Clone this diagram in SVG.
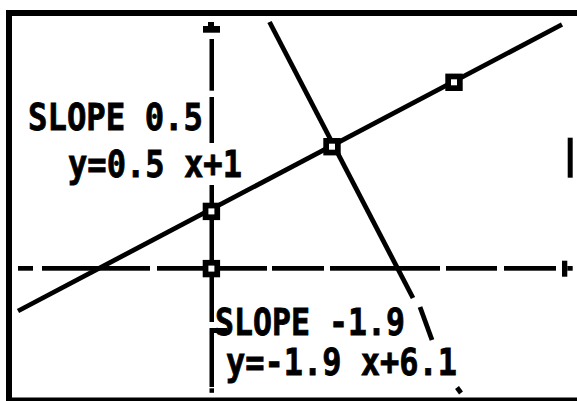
<svg xmlns="http://www.w3.org/2000/svg" width="577" height="401" viewBox="0 0 577 401">
<style>
.k{fill:#000}
.ln{stroke:#000;stroke-width:4.8;fill:none;stroke-linecap:butt}
.t{font-family:"DejaVu Sans Mono","Liberation Mono",monospace;font-weight:bold;font-size:37px;fill:#000;stroke:#000;stroke-width:0.8}
</style>
<defs>
<g id="mk"><rect x="-8.7" y="-8.7" width="17.4" height="17.4" fill="#000"/><rect x="-3" y="-3" width="6" height="6" fill="#fff"/></g>
</defs>
<rect width="577" height="401" fill="#fff"/>
<g id="frame" class="k">
<rect x="6" y="10" width="571" height="6"/>
<rect x="6" y="10" width="6" height="391"/>
<rect x="6" y="397.5" width="571" height="3.5"/>
</g>
<g id="x-axis" class="k">
<rect x="18" y="266" width="15" height="4.7"/>
<rect x="42" y="266" width="108" height="4.7"/>
<rect x="157" y="266" width="46" height="4.7"/>
<rect x="220" y="266" width="47" height="4.7"/>
<rect x="272" y="266" width="52" height="4.7"/>
<rect x="330" y="266" width="110" height="4.7"/>
<rect x="446" y="266" width="51" height="4.7"/>
<rect x="504" y="266" width="52" height="4.7"/>
<rect x="562" y="260.7" width="5.3" height="16"/>
<rect x="567.3" y="266" width="5.4" height="4.7"/>
</g>
<g id="y-axis" class="k">
<rect x="208" y="22" width="6" height="4"/>
<rect x="203" y="26" width="17" height="6.7"/>
<rect x="209.5" y="39" width="4.5" height="51.7"/>
<rect x="209.5" y="97" width="4.5" height="46"/>
<rect x="209.5" y="185" width="4.5" height="137"/>
<rect x="209.5" y="328" width="4.5" height="59"/>
<rect x="214" y="328" width="13" height="5"/>
<rect x="209.5" y="388.3" width="4.5" height="4.5"/>
</g>
<g id="cursor" class="k">
<rect x="567.7" y="137.7" width="5" height="40"/>
</g>
<g id="connectors">
<line id="line-slope-0.5" class="ln" x1="18" y1="311" x2="562" y2="24.5"/>
<g id="line-slope-neg1.9">
<line class="ln" x1="269.5" y1="22" x2="413" y2="298"/>
<line class="ln" x1="420" y1="307" x2="432" y2="340"/>
<line class="ln" x1="457" y1="387.5" x2="461" y2="393"/>
</g>
</g>
<g id="markers">
<use id="m-origin" href="#mk" x="211.4" y="268.6"/>
<use id="m-intercept" href="#mk" x="211.4" y="211.4"/>
<use id="m-intersection" href="#mk" x="332" y="146.7"/>
<use id="m-upper" href="#mk" x="454" y="82.3"/>
</g>
<g id="labels">
<text class="t" x="28" y="130" textLength="175" lengthAdjust="spacingAndGlyphs">SLOPE 0.5</text>
<text class="t" x="68" y="177" textLength="174" lengthAdjust="spacingAndGlyphs">y=0.5 x+1</text>
<text class="t" x="215" y="335" textLength="190" lengthAdjust="spacingAndGlyphs">SLOPE -1.9</text>
<text class="t" x="226" y="375" textLength="231" lengthAdjust="spacingAndGlyphs">y=-1.9 x+6.1</text>
</g>
</svg>
